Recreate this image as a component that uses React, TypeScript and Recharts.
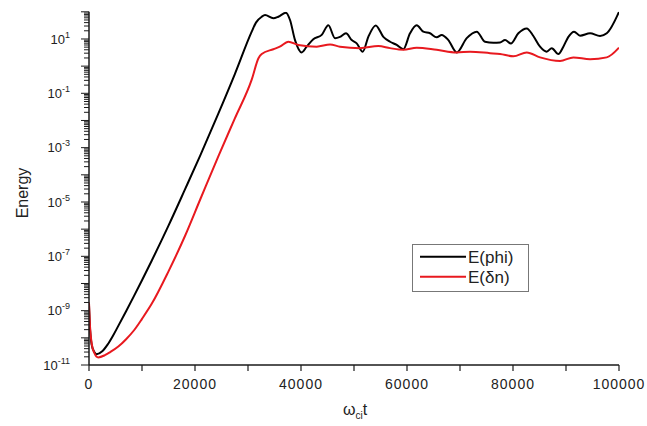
import React from 'react';
import { LineChart, Line, XAxis, YAxis } from 'recharts';

// Time axis (ω_ci t) and energy samples of the two series
const phiTimes = [
  0, 200, 500, 1000, 1450, 2500, 3500, 4500, 5530, 7000, 8500, 10000, 11830, 15000, 18110,
  21000, 24400, 27500,
  30700, 31500, 32590, 33210, 34780, 35720, 37170, 37930, 38870, 40130, 41070, 42320, 43910,
  45160, 46420, 47360, 48490, 49570, 50510, 51650, 52700, 54100, 55540, 56800, 58060, 59310,
  60570, 61830, 63080, 64340, 65600, 66550, 67800, 69390, 71270, 73160, 74720, 76290, 77550,
  78500, 79600, 81010, 82590, 83840, 85100, 86360, 87310, 88560, 89500, 90450, 91520, 92650,
  94540, 96420, 97690, 100000,
];
const phiEnergy = [
  1.58e-9, 2.0e-10, 5.6e-11, 3.0e-11, 2.5e-11, 3.2e-11, 5.6e-11, 1.17e-10, 2.75e-10, 9.5e-10,
  3.5e-9, 1.32e-8, 6.9e-8, 1.35e-6, 2.9e-5,
  5.2e-4, 1.78e-2, 0.5,
  18.6, 40, 66, 76, 58, 66, 93, 50, 9.1, 3.2, 5.2, 9.8, 14.1,
  32, 10.7, 12, 16.2, 9.1, 6.9, 3.4, 12, 31.6, 12, 7.9, 6.0, 4.2,
  16.2, 32, 18.6, 16.2, 11.5, 14.1, 9.1, 3.2, 10.7, 18.6, 7.9, 7.2, 7.4,
  9.1, 6.8, 16.2, 24.5, 12.9, 5.2, 3.4, 4.6, 2.8, 5.2, 12, 18.6, 13.2,
  16.2, 12.9, 16.2, 100,
];

const dnTimes = [
  0, 200, 500, 1000, 1750, 3000, 4000, 5530, 7000, 8500, 10000, 11830, 15000, 18110, 21000,
  24400, 27500, 30700,
  32000, 32590, 34780, 36000, 37610, 39500, 42960, 45480, 47360, 51140, 54590, 56800, 59310,
  61830, 65600, 69390, 71900, 75670, 77550, 80070, 82590, 85100, 88880, 91390, 94540, 97690,
  100000,
];
const dnEnergy = [
  2.0e-9, 2.5e-10, 6.3e-11, 2.8e-11, 1.9e-11, 2.3e-11, 3.0e-11, 4.8e-11, 8.9e-11, 1.9e-10,
  5.0e-10, 1.78e-9, 2.8e-8, 5.6e-7, 1.26e-5,
  4.8e-4, 1.17e-2, 0.32,
  2.0, 2.8, 4.2, 5.2, 7.9, 6.0, 5.2, 6.3, 5.2, 4.6, 5.5, 4.6, 4.0,
  4.8, 4.0, 3.2, 3.4, 3.0, 2.8, 2.3, 3.2, 2.1, 1.55, 2.1, 1.8, 2.1,
  4.8,
];

const xTicks = [0, 10000, 20000, 30000, 40000, 50000, 60000, 70000, 80000, 90000, 100000];
const yExponents = [-11, -10, -9, -8, -7, -6, -5, -4, -3, -2, -1, 0, 1, 2];

const seriesNames = ['E(phi)', 'E(δn)'];
const seriesColors = ['#000000', '#e8191f'];

const phiData = phiTimes.map((t, i) => ({ t, e: phiEnergy[i] }));
const dnData = dnTimes.map((t, i) => ({ t, e: dnEnergy[i] }));

// Decade ticks plus the 2..9 minor ticks between them
const yTicks: number[] = [];
yExponents.forEach((p, idx) => {
  const last = idx === yExponents.length - 1;
  const maxM = last ? 1 : 9;
  for (let m = 1; m <= maxM; m++) {
    yTicks.push(Number((m * Math.pow(10, p)).toPrecision(3)));
  }
});

const FONT = '"Liberation Sans", Arial, Helvetica, sans-serif';
const AXIS_COLOR = '#1a1a1a';

function YTick(props: any) {
  const { x, y, payload } = props;
  const v: number = payload.value;
  const lg = Math.log10(v);
  const exp = Math.round(lg);
  const isMajor = Math.abs(lg - exp) < 1e-6;
  const len = isMajor ? 8 : 5;
  const labelled = isMajor && Math.abs(exp) % 2 === 1;
  return (
    <g>
      <line x1={x - len} y1={y} x2={x} y2={y} stroke={AXIS_COLOR} strokeWidth={1} />
      {labelled && (
        <text x={x - 19} y={y + 4.7} textAnchor="end" fontFamily={FONT} fontSize={13} fill="#222">
          <tspan>10</tspan>
          <tspan dy={-6} fontSize={9}>{String(exp)}</tspan>
        </text>
      )}
    </g>
  );
}

function XTick(props: any) {
  const { x, y, payload } = props;
  const v: number = payload.value;
  return (
    <g>
      <line x1={x} y1={y} x2={x} y2={y + 6} stroke={AXIS_COLOR} strokeWidth={1.2} />
      {v % 20000 === 0 && (
        <text
          x={x}
          y={y + 24.3}
          textAnchor="middle"
          fontFamily={FONT}
          fontSize={14}
          letterSpacing={1}
          fill="#222"
        >
          {String(v)}
        </text>
      )}
    </g>
  );
}

function XTitle() {
  return (
    <text x={355} y={415} textAnchor="middle" fontFamily={FONT} fontSize={16} fill="#222">
      <tspan>ω</tspan>
      <tspan dy={4} fontSize={10}>ci</tspan>
      <tspan dy={-4}>t</tspan>
    </text>
  );
}

function YTitle() {
  return (
    <text
      x={22}
      y={193}
      transform="rotate(-90 22 193)"
      textAnchor="middle"
      dominantBaseline="central"
      fontFamily={FONT}
      fontSize={16}
      fill="#222"
    >
      Energy
    </text>
  );
}

function LegendBox() {
  return (
    <svg width={117} height={48} style={{ display: 'block' }}>
      <rect x={0.5} y={0.5} width={116} height={47} fill="#fff" stroke="#777" strokeWidth={1} />
      {seriesNames.map((name, i) => (
        <g key={name}>
          <line
            x1={8}
            y1={12.7 + i * 20}
            x2={54}
            y2={12.7 + i * 20}
            stroke={seriesColors[i]}
            strokeWidth={2}
          />
          <text x={56} y={18.5 + i * 20} fontFamily={FONT} fontSize={17} fill="#222">
            {name}
          </text>
        </g>
      ))}
    </svg>
  );
}

export default function App() {
  return (
    <div style={{ position: 'absolute', left: 0, top: 0, width: 647, height: 426, background: '#fff' }}>
      <LineChart width={647} height={426} margin={{ top: 11.8, right: 28, bottom: 0, left: 0 }}>
        <XAxis
          dataKey="t"
          type="number"
          domain={[0, 100000]}
          allowDataOverflow
          ticks={xTicks}
          interval={0}
          tickSize={0}
          tickMargin={0}
          tick={<XTick />}
          height={61}
          axisLine={{ stroke: AXIS_COLOR, strokeWidth: 1.5 }}
          label={<XTitle />}
        />
        <YAxis
          type="number"
          scale="log"
          domain={[1e-11, 100]}
          allowDataOverflow
          ticks={yTicks}
          interval={0}
          tickSize={0}
          tickMargin={0}
          tick={<YTick />}
          width={89}
          axisLine={{ stroke: AXIS_COLOR, strokeWidth: 1.5 }}
          label={<YTitle />}
        />
        <Line
          data={phiData}
          dataKey="e"
          name={seriesNames[0]}
          type="monotone"
          stroke={seriesColors[0]}
          strokeWidth={2}
          dot={false}
          isAnimationActive={false}
        />
        <Line
          data={dnData}
          dataKey="e"
          name={seriesNames[1]}
          type="monotone"
          stroke={seriesColors[1]}
          strokeWidth={2}
          dot={false}
          isAnimationActive={false}
        />
      </LineChart>
      <div style={{ position: 'absolute', left: 412, top: 244 }}>
        <LegendBox />
      </div>
    </div>
  );
}
